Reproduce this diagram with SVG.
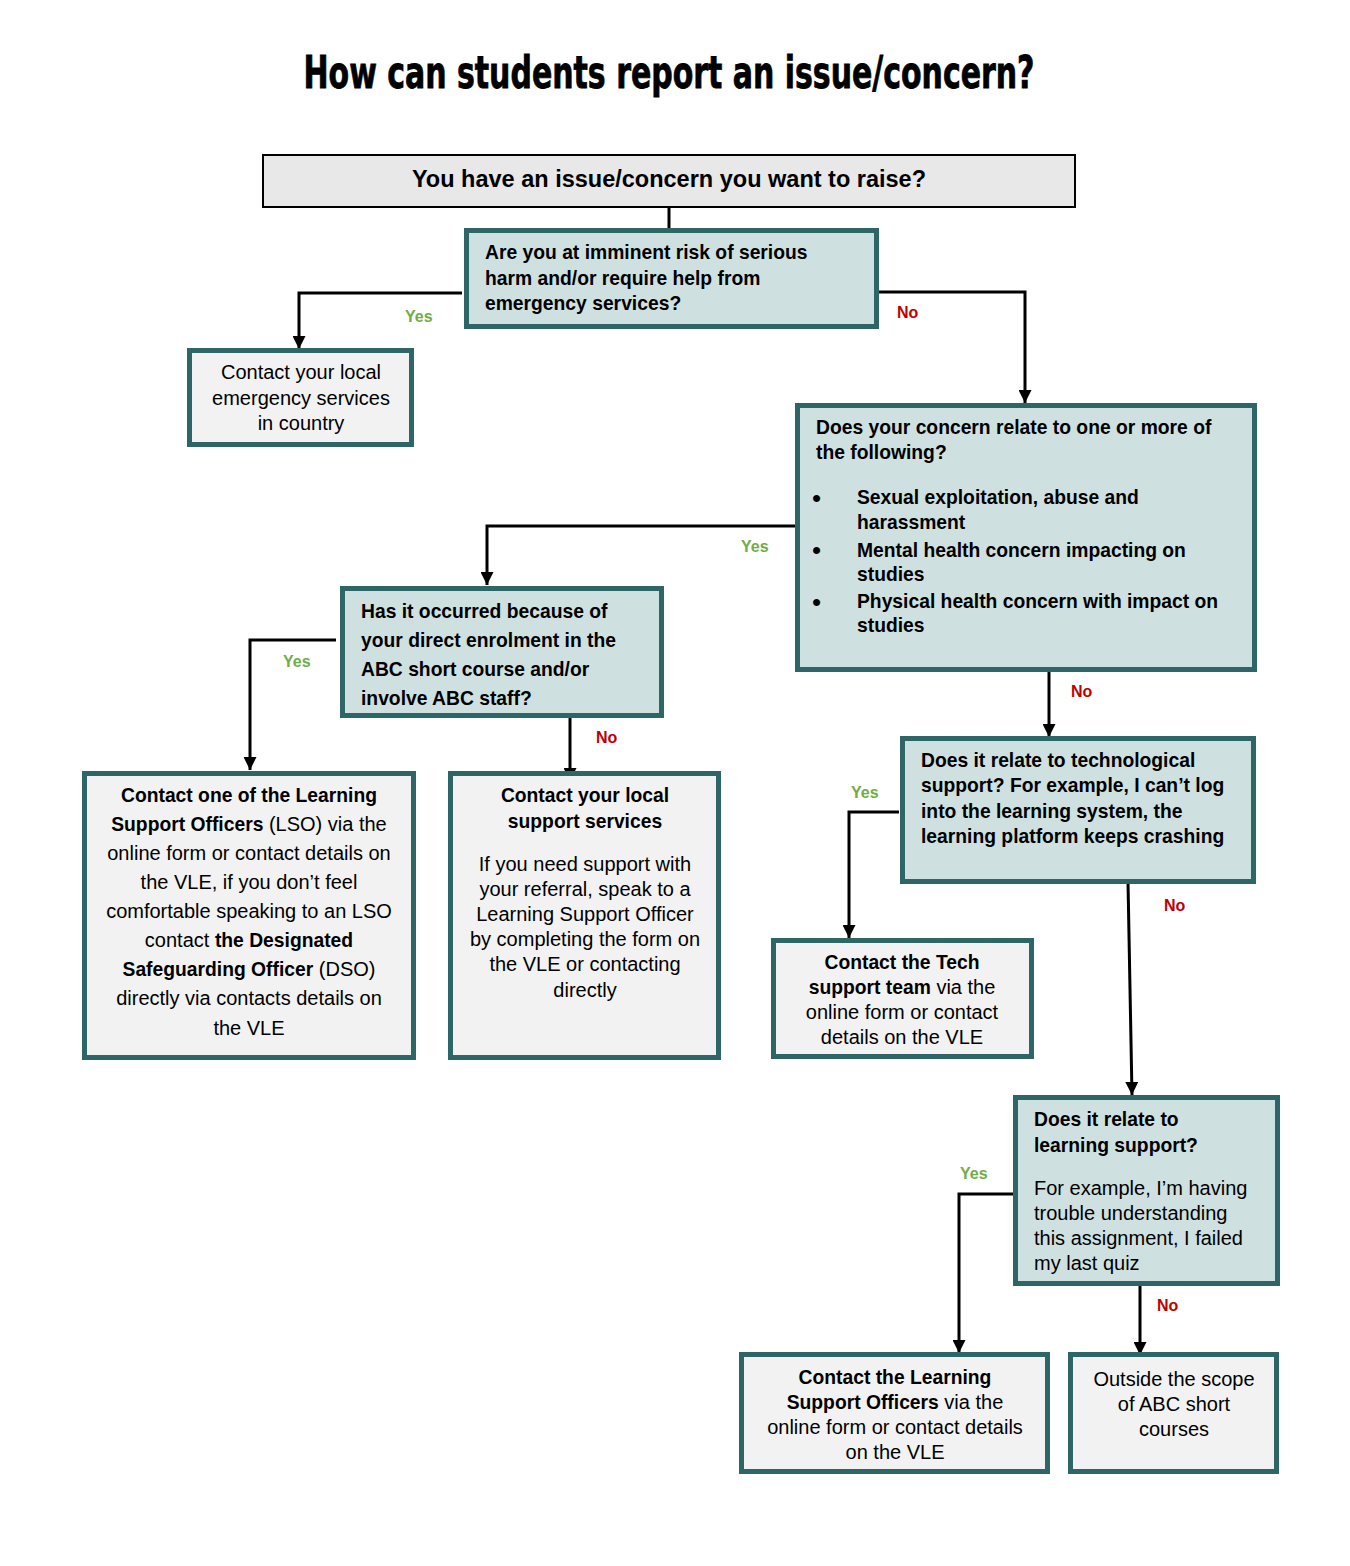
<svg xmlns="http://www.w3.org/2000/svg" width="1350" height="1566" viewBox="0 0 1350 1566">
<style>
.q{fill:#cfe0e0;stroke:#2e6566;stroke-width:5}
.r{fill:#f2f2f2;stroke:#2e6566;stroke-width:5}
.t{font-family:"Liberation Sans",Arial,sans-serif;fill:#000}
.b{font-weight:bold;font-size:19.3px}
.n{font-size:20px}
.c{text-anchor:middle}
.bu{font-family:"Liberation Sans",Arial,sans-serif;font-size:26px;fill:#000}
.yes{font-family:"Liberation Sans",Arial,sans-serif;font-weight:bold;font-size:16px;fill:#70ad47}
.no{font-family:"Liberation Sans",Arial,sans-serif;font-weight:bold;font-size:16px;fill:#c00000}
.ln{fill:none;stroke:#000;stroke-width:3;marker-end:url(#ah)}
</style>
<defs>
<marker id="ah" viewBox="0 0 10 10" refX="10" refY="5" markerUnits="userSpaceOnUse" markerWidth="13" markerHeight="13" orient="auto">
<path d="M0,0 L10,5 L0,10 z" fill="#000"/>
</marker>
</defs>
<rect width="1350" height="1566" fill="#fff"/>
<text x="669" y="88" text-anchor="middle" textLength="731" lengthAdjust="spacingAndGlyphs" style="font-family:'Liberation Sans Narrow','DejaVu Sans Condensed','Liberation Sans',sans-serif;font-weight:900;font-size:45px;stroke:#000;stroke-width:0.8">How can students report an issue/concern?</text>

<g id="connectors">
<line x1="669" y1="208" x2="669" y2="230" stroke="#000" stroke-width="3"/>
<path class="ln" d="M462,293 H299 V349"/>
<path class="ln" d="M878,292 H1025 V403"/>
<path class="ln" d="M797,526 H487 V585"/>
<path class="ln" d="M1049,670 V737"/>
<path class="ln" d="M336,640 H250 V770"/>
<path class="ln" d="M570,705 V781"/>
<path class="ln" d="M899,812 H849 V938"/>
<path class="ln" d="M1128,882 L1132,1095"/>
<path class="ln" d="M1013,1194 H959 V1353"/>
<path class="ln" d="M1140,1284 V1355"/>
<text class="yes" x="405" y="322">Yes</text>
<text class="no" x="897" y="318">No</text>
<text class="yes" x="741" y="552">Yes</text>
<text class="no" x="1071" y="697">No</text>
<text class="yes" x="283" y="667">Yes</text>
<text class="no" x="596" y="743">No</text>
<text class="yes" x="851" y="798">Yes</text>
<text class="no" x="1164" y="911">No</text>
<text class="yes" x="960" y="1179">Yes</text>
<text class="no" x="1157" y="1311">No</text>
</g>

<g id="start">
<rect x="263" y="155" width="812" height="52" fill="#e8e8e8" stroke="#000" stroke-width="2"/>
<text class="t c" x="669" y="187" style="font-weight:bold;font-size:23.5px">You have an issue/concern you want to raise?</text>
</g>

<g id="q-risk">
<rect class="q" x="466.5" y="230.5" width="410" height="96"/>
<text class="t b" x="485" y="259">Are you at imminent risk of serious</text>
<text class="t b" x="485" y="285">harm and/or require help from</text>
<text class="t b" x="485" y="310">emergency services?</text>
</g>

<g id="r-emergency">
<rect class="r" x="189.5" y="350.5" width="222" height="94"/>
<text class="t n c" x="301" y="379">Contact your local</text>
<text class="t n c" x="301" y="405">emergency services</text>
<text class="t n c" x="301" y="430">in country</text>
</g>

<g id="q-concern">
<rect class="q" x="797.5" y="405.5" width="457" height="264"/>
<text class="t b" x="816" y="434">Does your concern relate to one or more of</text>
<text class="t b" x="816" y="459">the following?</text>
<text class="bu" x="812" y="507">•</text>
<text class="t b" x="857" y="504">Sexual exploitation, abuse and</text>
<text class="t b" x="857" y="529">harassment</text>
<text class="bu" x="812" y="559">•</text>
<text class="t b" x="857" y="557">Mental health concern impacting on</text>
<text class="t b" x="857" y="581">studies</text>
<text class="bu" x="812" y="611">•</text>
<text class="t b" x="857" y="608">Physical health concern with impact on</text>
<text class="t b" x="857" y="632">studies</text>
</g>

<g id="q-enrolment">
<rect class="q" x="342.5" y="588.5" width="319" height="127"/>
<text class="t b" x="361" y="618">Has it occurred because of</text>
<text class="t b" x="361" y="647">your direct enrolment in the</text>
<text class="t b" x="361" y="676">ABC short course and/or</text>
<text class="t b" x="361" y="705">involve ABC staff?</text>
</g>

<g id="r-lso">
<rect class="r" x="84.5" y="773.5" width="329" height="284"/>
<text class="t n c" x="249" y="802"><tspan class="b">Contact one of the Learning</tspan></text>
<text class="t n c" x="249" y="831"><tspan class="b">Support Officers</tspan> (LSO) via the</text>
<text class="t n c" x="249" y="860">online form or contact details on</text>
<text class="t n c" x="249" y="889">the VLE, if you don’t feel</text>
<text class="t n c" x="249" y="918">comfortable speaking to an LSO</text>
<text class="t n c" x="249" y="947">contact <tspan class="b">the Designated</tspan></text>
<text class="t n c" x="249" y="976"><tspan class="b">Safeguarding Officer</tspan> (DSO)</text>
<text class="t n c" x="249" y="1005">directly via contacts details on</text>
<text class="t n c" x="249" y="1035">the VLE</text>
</g>

<g id="r-local">
<rect class="r" x="450.5" y="773.5" width="268" height="284"/>
<text class="t b c" x="585" y="802">Contact your local</text>
<text class="t b c" x="585" y="828">support services</text>
<text class="t n c" x="585" y="871">If you need support with</text>
<text class="t n c" x="585" y="896">your referral, speak to a</text>
<text class="t n c" x="585" y="921">Learning Support Officer</text>
<text class="t n c" x="585" y="946">by completing the form on</text>
<text class="t n c" x="585" y="971">the VLE or contacting</text>
<text class="t n c" x="585" y="997">directly</text>
</g>

<g id="q-tech">
<rect class="q" x="902.5" y="738.5" width="351" height="143"/>
<text class="t b" x="921" y="767">Does it relate to technological</text>
<text class="t b" x="921" y="792">support? For example, I can’t log</text>
<text class="t b" x="921" y="818">into the learning system, the</text>
<text class="t b" x="921" y="843">learning platform keeps crashing</text>
</g>

<g id="r-tech">
<rect class="r" x="773.5" y="940.5" width="258" height="116"/>
<text class="t n c" x="902" y="969"><tspan class="b">Contact the Tech</tspan></text>
<text class="t n c" x="902" y="994"><tspan class="b">support team</tspan> via the</text>
<text class="t n c" x="902" y="1019">online form or contact</text>
<text class="t n c" x="902" y="1044">details on the VLE</text>
</g>

<g id="q-learning">
<rect class="q" x="1015.5" y="1097.5" width="262" height="186"/>
<text class="t b" x="1034" y="1126">Does it relate to</text>
<text class="t b" x="1034" y="1152">learning support?</text>
<text class="t n" x="1034" y="1195">For example, I’m having</text>
<text class="t n" x="1034" y="1220">trouble understanding</text>
<text class="t n" x="1034" y="1245">this assignment, I failed</text>
<text class="t n" x="1034" y="1270">my last quiz</text>
</g>

<g id="r-lso2">
<rect class="r" x="741.5" y="1354.5" width="306" height="117"/>
<text class="t n c" x="895" y="1384"><tspan class="b">Contact the Learning</tspan></text>
<text class="t n c" x="895" y="1409"><tspan class="b">Support Officers</tspan> via the</text>
<text class="t n c" x="895" y="1434">online form or contact details</text>
<text class="t n c" x="895" y="1459">on the VLE</text>
</g>

<g id="r-outside">
<rect class="r" x="1070.5" y="1354.5" width="206" height="117"/>
<text class="t n c" x="1174" y="1386">Outside the scope</text>
<text class="t n c" x="1174" y="1411">of ABC short</text>
<text class="t n c" x="1174" y="1436">courses</text>
</g>
</svg>
